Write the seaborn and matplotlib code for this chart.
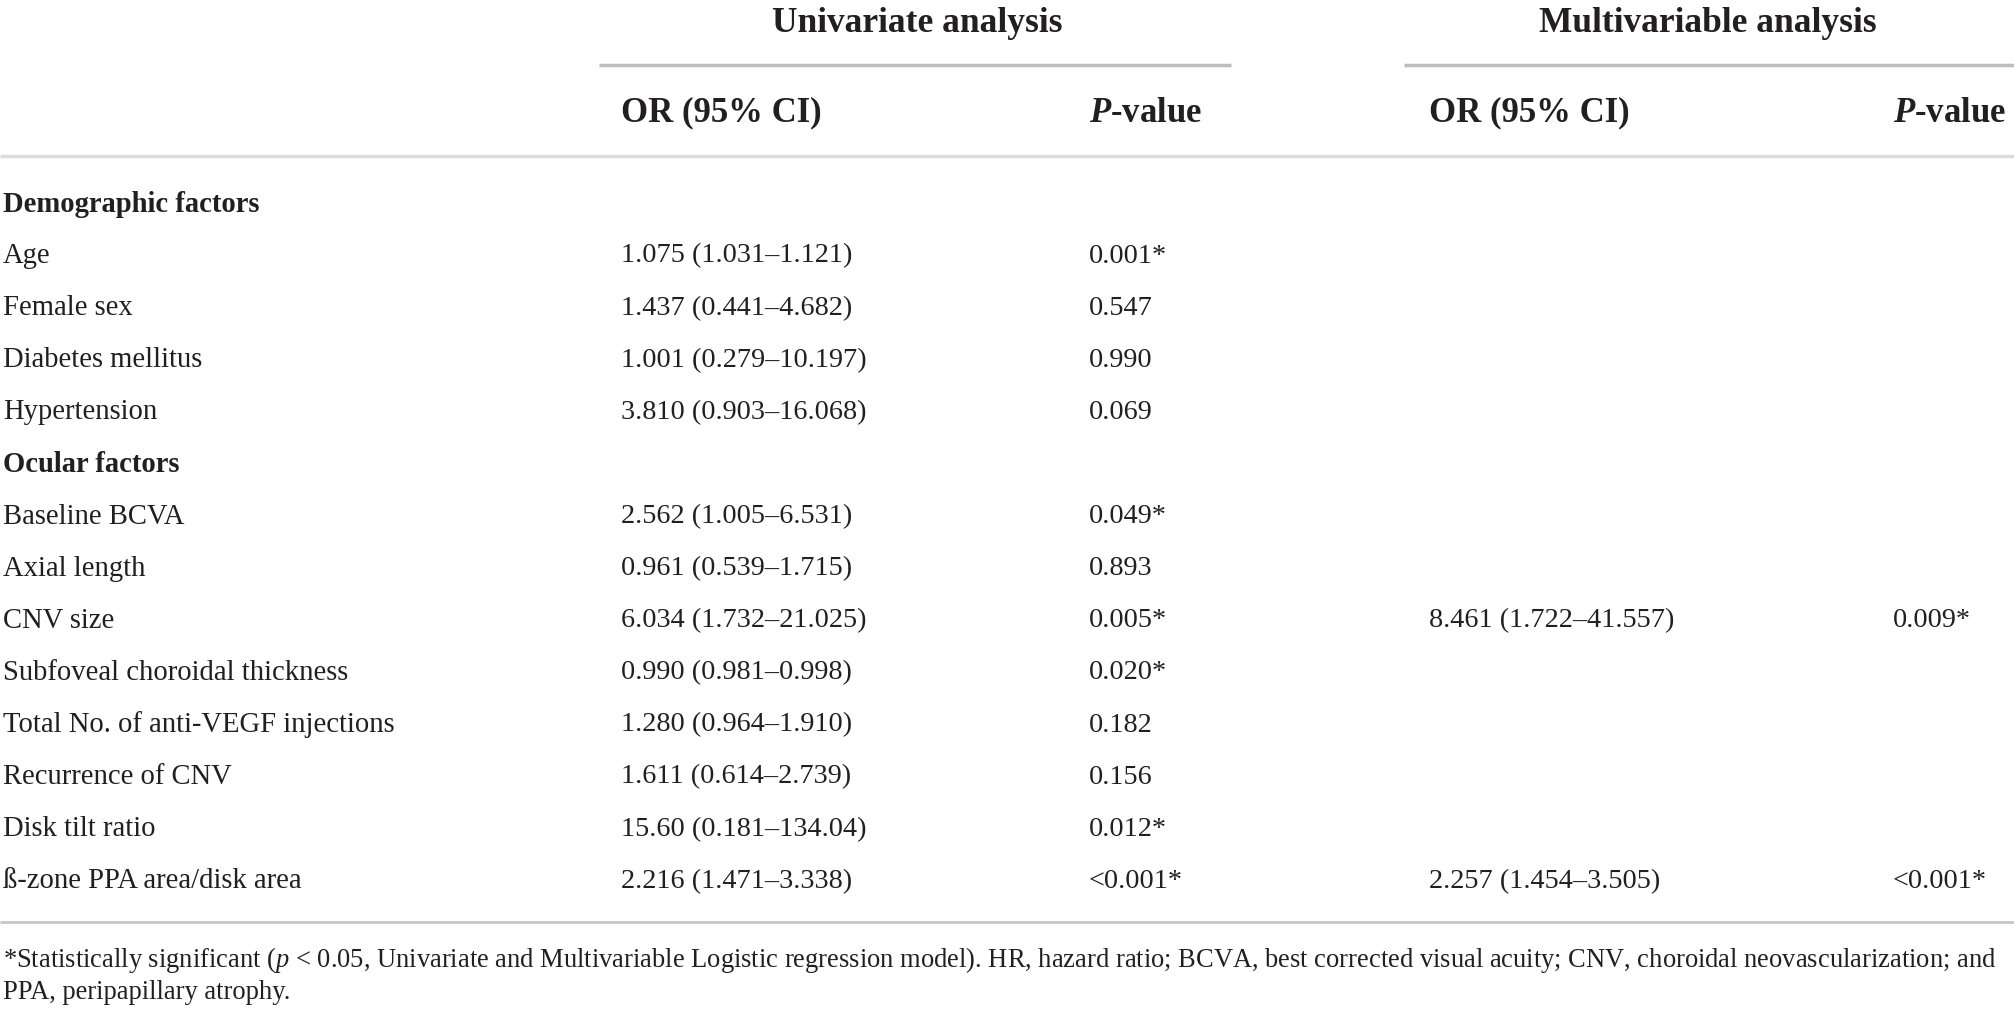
import matplotlib
matplotlib.use("Agg")
import matplotlib.pyplot as plt
import seaborn as sns

# table content
labels = ["Demographic factors", "Age", "Female sex", "Diabetes mellitus", "Hypertension",
          "Ocular factors", "Baseline BCVA", "Axial length", "CNV size",
          "Subfoveal choroidal thickness", "Total No. of anti-VEGF injections",
          "Recurrence of CNV", "Disk tilt ratio", "ß-zone PPA area/disk area"]
is_section = [True, False, False, False, False, True, False, False, False,
              False, False, False, False, False]
uni_or = ["", "1.075 (1.031–1.121)", "1.437 (0.441–4.682)", "1.001 (0.279–10.197)",
          "3.810 (0.903–16.068)", "", "2.562 (1.005–6.531)", "0.961 (0.539–1.715)",
          "6.034 (1.732–21.025)", "0.990 (0.981–0.998)", "1.280 (0.964–1.910)",
          "1.611 (0.614–2.739)", "15.60 (0.181–134.04)", "2.216 (1.471–3.338)"]
uni_p = ["", "0.001*", "0.547", "0.990", "0.069", "", "0.049*", "0.893", "0.005*",
         "0.020*", "0.182", "0.156", "0.012*", "<0.001*"]
multi_or = ["", "", "", "", "", "", "", "", "8.461 (1.722–41.557)", "", "", "", "",
            "2.257 (1.454–3.505)"]
multi_p = ["", "", "", "", "", "", "", "", "0.009*", "", "", "", "", "<0.001*"]

group_titles = ["Univariate analysis", "Multivariable analysis"]
col_headers = ["OR (95% CI)", r"$\mathbf{P}$-value", "OR (95% CI)", r"$\mathbf{P}$-value"]
footnote = [r"*Statistically significant ($\mathit{p}$ < 0.05, Univariate and Multivariable Logistic "
            "regression model). HR, hazard ratio; BCVA, best corrected visual acuity; CNV, "
            "choroidal neovascularization; and",
            "PPA, peripapillary atrophy."]

sns.set_theme(style="white")
plt.rcParams["font.family"] = ["Liberation Serif", "DejaVu Serif"]
plt.rcParams["mathtext.fontset"] = "custom"
plt.rcParams["mathtext.it"] = "Liberation Serif:italic"
plt.rcParams["mathtext.bf"] = "Liberation Serif:italic:bold"
plt.rcParams["mathtext.rm"] = "Liberation Serif"

ink = "#231f20"
fig = plt.figure(figsize=(20.15, 10.12), dpi=100)
ax = fig.add_axes([0, 0, 1, 1])
ax.set_xlim(0, 2015)
ax.set_ylim(1012, 0)
ax.axis("off")

# header
ax.text(917, 23, group_titles[0], ha="center", va="center", fontsize=25.5,
        fontweight="bold", color=ink)
ax.text(1708, 23, group_titles[1], ha="center", va="center", fontsize=25.5,
        fontweight="bold", color=ink)
ax.plot([599, 1231], [66, 66], color="#bdbdbd", lw=2.5, solid_capstyle="butt")
ax.plot([1404, 2015], [66, 66], color="#bdbdbd", lw=2.5, solid_capstyle="butt")

col_x = [621, 1089, 1429, 1893]
for x, h in zip(col_x, col_headers):
    ax.text(x, 113, h, ha="left", va="center", fontsize=25, fontweight="bold", color=ink)
ax.plot([0, 2015], [157, 157], color="#dcdcdc", lw=2.5, solid_capstyle="butt")

# body rows
row_top, row_step = 204, 52.1
for i, lab in enumerate(labels):
    y = row_top + i * row_step
    ax.text(3, y, lab, ha="left", va="center", fontsize=20.6,
            fontweight="bold" if is_section[i] else "normal", color=ink)
    for x, col in zip(col_x, [uni_or, uni_p, multi_or, multi_p]):
        if col[i]:
            ax.text(x, y, col[i], ha="left", va="center", fontsize=20.3, color=ink)

ax.plot([0, 2015], [923, 923], color="#c8c8c8", lw=2, solid_capstyle="butt")

# footnote
ax.text(3, 960, footnote[0], ha="left", va="center", fontsize=19.1, color=ink)
ax.text(3, 993, footnote[1], ha="left", va="center", fontsize=19.1, color=ink)

fig.savefig("out.png", dpi=100, facecolor="white")
